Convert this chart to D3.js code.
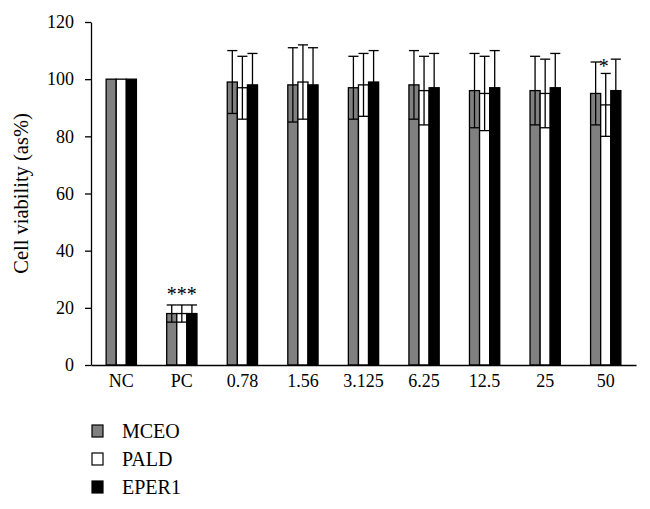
<!DOCTYPE html>
<html lang="en">
<head>
  <meta charset="UTF-8">
  <script src="https://cdn.jsdelivr.net/npm/d3@7"></script>
  <title>Cell viability</title>
  <style>
    body { margin: 0; background: #fff; }
    text { font-family: "Liberation Serif", "DejaVu Serif", serif; }
  </style>
</head>
<body>
  <script>
    const width = 650, height = 509
    const margin = ({top: 22, right: 14, bottom: 144, left: 91})

    const groups = ['NC', 'PC', '0.78', '1.56', '3.125', '6.25', '12.5', '25', '50']
    const seriesNames = ['MCEO', 'PALD', 'EPER1']
    const colors = ['#808080', '#ffffff', '#000000']

    const mceo = [100, 18, 99, 98, 97, 98, 96, 96, 95]
    const pald = [100, 18, 97, 99, 98, 96, 95, 95, 91]
    const eper1 = [100, 18, 98, 98, 99, 97, 97, 97, 96]

    const mceoErr = [0, 3, 11, 13, 11, 12, 13, 12, 11]
    const paldErr = [0, 3, 11, 13, 11, 12, 13, 12, 11]
    const eper1Err = [0, 3, 11, 13, 11, 12, 13, 12, 11]

    const stars = [{group: 'PC', series: 'PALD', text: '***'}, {group: '50', series: 'MCEO', text: '*', offset: 8}]
    const yTicks = [0, 20, 40, 60, 80, 100, 120]

    const values = [mceo, pald, eper1]
    const errs = [mceoErr, paldErr, eper1Err]
    const data = []
    groups.forEach((g, i) => {
      seriesNames.forEach((s, j) => {
        data.push({group: g, series: s, value: values[j][i], err: errs[j][i], color: colors[j]})
      })
    })

    const svg = d3.select('body').append('svg')
        .attr('width', width)
        .attr('height', height)

    const x = d3.scaleBand()
        .domain(groups)
        .range([margin.left, width - margin.right])
        .paddingInner(0.5)
        .paddingOuter(0.25)

    const xs = d3.scaleBand()
        .domain(seriesNames)
        .range([0, x.bandwidth()])

    const y = d3.scaleLinear()
        .domain([0, 120])
        .range([height - margin.bottom, margin.top])

    // bars
    svg.append('g').selectAll('rect')
      .data(data)
      .join('rect')
        .attr('x', d => x(d.group) + xs(d.series))
        .attr('y', d => y(d.value))
        .attr('width', xs.bandwidth())
        .attr('height', d => y(0) - y(d.value))
        .attr('fill', d => d.color)
        .attr('stroke', '#000')
        .attr('stroke-width', 1.3)

    // error bars
    const eb = svg.append('g')
        .attr('stroke', '#000')
        .attr('stroke-width', 1.3)
        .selectAll('g')
        .data(data.filter(d => d.err > 0))
        .join('g')
    const cx = d => x(d.group) + xs(d.series) + xs.bandwidth() / 2
    eb.append('line')
        .attr('x1', cx).attr('x2', cx)
        .attr('y1', d => y(d.value - d.err))
        .attr('y2', d => y(d.value + d.err))
    eb.append('line')
        .attr('x1', d => cx(d) - xs.bandwidth() / 2).attr('x2', d => cx(d) + xs.bandwidth() / 2)
        .attr('y1', d => y(d.value + d.err))
        .attr('y2', d => y(d.value + d.err))
    eb.append('line')
        .attr('x1', d => cx(d) - xs.bandwidth() / 2).attr('x2', d => cx(d) + xs.bandwidth() / 2)
        .attr('y1', d => y(d.value - d.err))
        .attr('y2', d => y(d.value - d.err))

    // significance marks
    svg.append('g').selectAll('text')
      .data(stars)
      .join('text')
        .attr('x', d => x(d.group) + xs(d.series) + xs.bandwidth() / 2 + (d.offset || 0))
        .attr('y', d => {
          const row = data.find(r => r.group === d.group && r.series === d.series)
          return y(row.value + row.err) + (d.offset ? 15 : 0)
        })
        .attr('dy', '-0.2em')
        .attr('text-anchor', 'middle')
        .attr('font-size', 20)
        .text(d => d.text)

    // axes
    svg.append('g')
        .attr('transform', `translate(${margin.left},0)`)
        .call(d3.axisLeft(y).tickValues(yTicks).tickSize(6).tickPadding(11).tickSizeOuter(0))
        .call(g => g.selectAll('text').attr('font-size', 18).attr('font-family', '"Liberation Serif", serif').attr('fill', '#000'))
        .call(g => g.selectAll('line, path').attr('stroke', '#000').attr('stroke-width', 1.3))

    svg.append('g')
        .attr('transform', `translate(0,${y(0)})`)
        .call(d3.axisBottom(x).tickSize(0).tickPadding(9).tickSizeOuter(0))
        .call(g => g.selectAll('text').attr('font-size', 18).attr('font-family', '"Liberation Serif", serif').attr('fill', '#000'))
        .call(g => g.selectAll('path').attr('stroke', '#000').attr('stroke-width', 1.3))

    svg.append('text')
        .attr('transform', `translate(28,${(y(0) + y(120)) / 2}) rotate(-90)`)
        .attr('text-anchor', 'middle')
        .attr('font-size', 20.5)
        .text('Cell viability (as%)')

    // legend
    const legend = svg.append('g')
        .selectAll('g')
        .data(seriesNames)
        .join('g')
        .attr('transform', (d, i) => `translate(92,${425 + i * 28})`)
    legend.append('rect')
        .attr('width', 11).attr('height', 12)
        .attr('fill', (d, i) => colors[i])
        .attr('stroke', '#000')
        .attr('stroke-width', 1.2)
    legend.append('text')
        .attr('x', 30).attr('y', 13)
        .attr('font-size', 20)
        .text(d => d)
  </script>
</body>
</html>
